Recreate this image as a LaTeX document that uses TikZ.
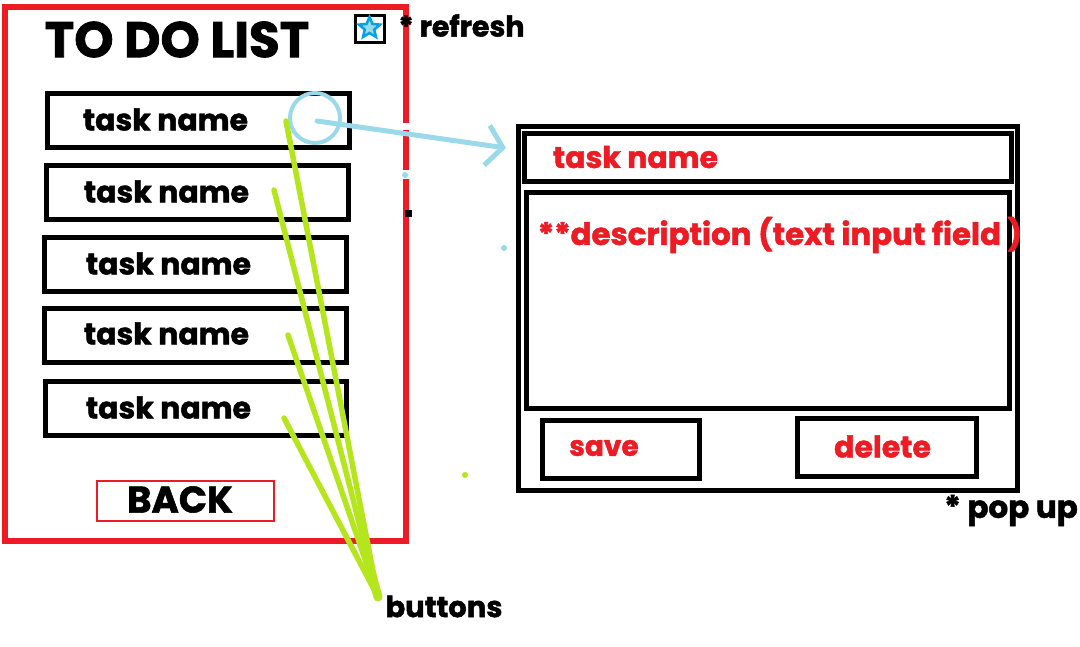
\documentclass[tikz,border=0pt]{standalone}
\usepackage{fontspec}
\setmainfont{Poppins}[BoldFeatures={FakeBold=1.6}]
\usetikzlibrary{shapes.geometric, arrows.meta, positioning}
\definecolor{paintred}{HTML}{ED1C24}
\definecolor{paintgreen}{HTML}{B5E61D}
\definecolor{paintsky}{HTML}{99D9EA}
\definecolor{paintblue}{HTML}{00A2E8}
\begin{document}
\begin{tikzpicture}[
    x=1pt, y=-1pt,
    box/.style={rectangle, draw, line width=5pt, inner sep=0pt},
    taskbox/.style={box, minimum width=302pt, minimum height=54pt},
    tasktext/.style={font=\fontsize{30}{30}\selectfont\bfseries},
    redtext/.style={font=\fontsize{30}{30}\selectfont\bfseries, paintred},
    pointer/.style={paintgreen, line width=5.5pt, line cap=round},
    skyline/.style={paintsky, line width=5pt, line cap=round},
]
\useasboundingbox (0,0) rectangle (1080,646);

% List screen
\node[rectangle, draw=paintred, line width=5.5pt, minimum width=401pt, minimum height=534pt, inner sep=0pt] (screen) at (205.5,274) {};
\fill[white] (403,123) rectangle (410,130);
\fill[white] (403,170) rectangle (410,179);
\node[font=\fontsize{50}{50}\selectfont\bfseries] (title) at (177,39.5) {TO DO LIST};
\node[box, line width=3pt, minimum width=29pt, minimum height=27pt] (refreshbox) at (370,28.5) {};
\node[star, star points=5, star point ratio=2.2, draw=paintblue, fill=paintsky, line width=2.5pt, minimum size=22pt, inner sep=0pt] (refreshstar) at (369.5,28) {};
\node[font=\fontsize{28.5}{28.5}\selectfont\bfseries] (refresh) at (461.5,25.5) {* refresh};

% Tasks
\node[taskbox] (task1) at (198.5,120.5) {};
\node[taskbox] (task2) at (197.5,192) {};
\node[taskbox] (task3) at (195.5,264) {};
\node[taskbox] (task4) at (195.5,335) {};
\node[taskbox, minimum width=301pt] (task5) at (196,408.5) {};
\node[tasktext] (name1) at (165.5,119.5) {task name};
\node[tasktext] (name2) at (166.5,191.5) {task name};
\node[tasktext] (name3) at (168.5,263.5) {task name};
\node[tasktext] (name4) at (166.5,333.5) {task name};
\node[tasktext] (name5) at (168.5,407.5) {task name};

% Back
\node[rectangle, draw=paintred, line width=2pt, minimum width=177pt, minimum height=40pt, inner sep=0pt] (backbox) at (185.5,501) {};
\node[font=\fontsize{37}{37}\selectfont\bfseries] (back) at (180,499.5) {BACK};

% Pop up
\node[box, minimum width=499pt, minimum height=364pt] (popup) at (768,308) {};
\node[box, minimum width=487pt, minimum height=48pt] (namebox) at (768,157) {};
\node[box, minimum width=483pt, minimum height=216pt] (descbox) at (768,300) {};
\node[box, minimum width=157pt, minimum height=58pt] (savebox) at (621,449) {};
\node[box, minimum width=179pt, minimum height=58pt] (deletebox) at (887,447) {};
\node[redtext] (popname) at (635.5,157) {task name};
\node[redtext, font=\fontsize{30.8}{30.8}\selectfont\bfseries] (desc) at (780,235) {**description (text input field )};
\node[redtext, font=\fontsize{28}{28}\selectfont\bfseries] (save) at (604,448) {save};
\node[redtext] (delete) at (882.5,446.5) {delete};
\node[font=\fontsize{31}{31}\selectfont\bfseries] (popnote) at (1011,510.5) {* pop up};

% Circle and arrow
\node[circle, draw=paintsky, line width=4pt, minimum size=50pt, inner sep=0pt] (ring) at (315,118) {};
\coordinate (ringmid) at (317,121);
\coordinate (arrowend) at (506,148);
\draw[skyline, -{Straight Barb[length=16pt, width=40pt, line width=5pt]}] (ringmid) -- (arrowend);

% Buttons
\node[font=\fontsize{29}{29}\selectfont\bfseries] (buttons) at (444,606.5) {buttons};
\coordinate (tip) at (378,597);
\coordinate (neck) at (370,568);
\coordinate (mark1) at (286,121);
\coordinate (mark2) at (274,190);
\coordinate (mark3) at (288,335);
\coordinate (mark4) at (284,418);
\draw[pointer] (mark1) -- (tip);
\draw[pointer] (mark2) -- (tip);
\draw[pointer] (mark3) -- (tip);
\draw[pointer] (mark4) -- (tip);
\draw[pointer, line width=9pt] (neck) -- (tip);

% Specks
\fill[paintsky] (405,175) circle (3pt);
\fill[paintsky] (504,248) circle (3pt);
\fill[paintgreen] (465,475) circle (3pt);
\fill[black] (405,210) rectangle (412,217);
\end{tikzpicture}
\end{document}
